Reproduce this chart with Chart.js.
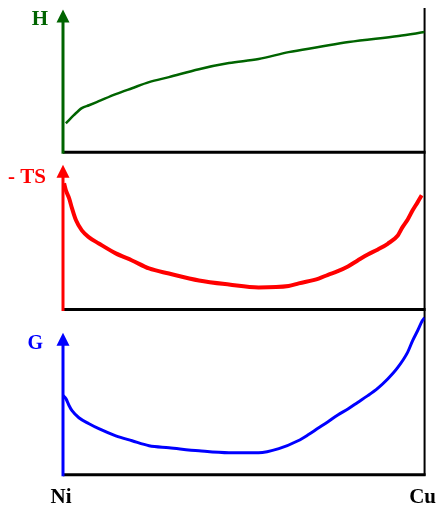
<!DOCTYPE html>
<html>
<head>
<meta charset="utf-8">
<script src="https://cdn.jsdelivr.net/npm/chart.js@4.4.1/dist/chart.umd.min.js"></script>
<style>
  html, body { margin:0; padding:0; background:#fff; }
  #wrap { position:relative; width:448px; height:520px; }
</style>
</head>
<body>
<div id="wrap"><canvas id="chart"></canvas></div>
<script>
// x = mole fraction of Cu (Ni = 0, Cu = 1), y in arbitrary units (0..100 per panel)
const xLabels = ['Ni', 'Cu'];

const enthalpyX = [0.008, 0.03, 0.052, 0.072, 0.099, 0.146, 0.191, 0.238, 0.293, 0.376, 0.459, 0.541, 0.624, 0.707, 0.79, 0.928, 1.0];
const enthalpyY = [20.1, 25.7, 30.6, 32.6, 35.4, 40.3, 44.4, 48.6, 52.1, 57.6, 61.8, 64.6, 69.4, 72.9, 76.4, 80.6, 83.3];

const entropyX = [0.003, 0.008, 0.017, 0.025, 0.036, 0.052, 0.072, 0.099, 0.146, 0.191, 0.238, 0.293, 0.376, 0.459, 0.541, 0.624, 0.652, 0.707, 0.733, 0.76, 0.788, 0.815, 0.843, 0.871, 0.898, 0.926, 0.939, 0.953, 0.967, 0.981, 0.992];
const entropyY = [80.3, 75.8, 70.7, 64.3, 56.7, 50.3, 45.9, 42.0, 35.7, 31.2, 26.1, 22.9, 18.5, 15.9, 14.0, 14.9, 16.6, 19.7, 22.1, 24.4, 27.4, 31.2, 35.0, 38.2, 41.8, 47.1, 52.4, 57.1, 63.1, 68.3, 72.6];

const gibbsX = [0, 0.008, 0.017, 0.025, 0.044, 0.072, 0.099, 0.146, 0.191, 0.238, 0.293, 0.376, 0.459, 0.541, 0.597, 0.65, 0.678, 0.705, 0.733, 0.76, 0.788, 0.815, 0.843, 0.871, 0.898, 0.926, 0.953, 0.967, 0.981, 0.994, 1.0];
const gibbsY = [47.9, 46.1, 41.8, 38.8, 34.5, 30.9, 27.9, 23.6, 20.6, 17.6, 16.4, 14.5, 13.3, 13.3, 15.8, 20.6, 24.2, 28.1, 32.1, 36.2, 39.8, 43.8, 47.9, 52.5, 58.0, 65.0, 74.1, 81.2, 87.3, 93.3, 95.0];

const GREEN = '#006400';
const RED = '#ff0000';
const BLUE = '#0000ff';
const SERIF = '"Liberation Serif", "Times New Roman", serif';

const toPoints = (xs, ys) => xs.map((x, i) => ({ x: x, y: ys[i] }));

// panel decorations: axis arrow, label, baseline
const panels = [
  { scale:'yH',  label:'H',    color:GREEN, arrowTop:99, size:21, labelDx:15, labelDy:16 },
  { scale:'yTS', label:'- TS', color:RED,   arrowTop:92, size:21, labelDx:17, labelDy:18 },
  { scale:'yG',  label:'G',    color:BLUE,  arrowTop:86, size:20, labelDx:20, labelDy:16 }
];

const axesPlugin = {
  id: 'thermoAxes',
  beforeDatasetsDraw(chart) {
    const { ctx, chartArea } = chart;
    const left = chartArea.left, right = chartArea.right;
    ctx.save();
    // right frame line
    ctx.strokeStyle = '#000';
    ctx.lineWidth = 2;
    ctx.beginPath();
    ctx.moveTo(right, chartArea.top);
    ctx.lineTo(right, chartArea.bottom + 1);
    ctx.stroke();

    panels.forEach(p => {
      const s = chart.scales[p.scale];
      const y0 = s.getPixelForValue(0);
      const yTip = s.getPixelForValue(p.arrowTop);
      // baseline
      ctx.strokeStyle = '#000';
      ctx.lineWidth = 3;
      ctx.beginPath();
      ctx.moveTo(left, y0);
      ctx.lineTo(right + 1, y0);
      ctx.stroke();
      // coloured y axis
      ctx.strokeStyle = p.color;
      ctx.lineWidth = 3;
      ctx.beginPath();
      ctx.moveTo(left, y0 + 1.5);
      ctx.lineTo(left, yTip + 10);
      ctx.stroke();
      ctx.fillStyle = p.color;
      ctx.beginPath();
      ctx.moveTo(left, yTip);
      ctx.lineTo(left - 6.5, yTip + 13);
      ctx.lineTo(left + 6.5, yTip + 13);
      ctx.closePath();
      ctx.fill();
      // label
      ctx.font = 'bold ' + p.size + 'px ' + SERIF;
      ctx.textAlign = 'right';
      ctx.textBaseline = 'alphabetic';
      ctx.fillText(p.label, left - p.labelDx, yTip + p.labelDy);
    });
    ctx.restore();
  }
};

const hiddenY = (weight) => ({
  type:'linear', min:0, max:100, position:'left',
  stack:'panels', stackWeight:weight, display:false
});

new Chart(document.getElementById('chart'), {
  type:'line',
  data:{
    datasets:[
      { label:'H', data:toPoints(enthalpyX, enthalpyY), yAxisID:'yH',
        borderColor:GREEN, borderWidth:2.5, pointRadius:0, cubicInterpolationMode:'monotone', fill:false },
      { label:'-TS', data:toPoints(entropyX, entropyY), yAxisID:'yTS',
        borderColor:RED, borderWidth:4, pointRadius:0, cubicInterpolationMode:'monotone', fill:false },
      { label:'G', data:toPoints(gibbsX, gibbsY), yAxisID:'yG',
        borderColor:BLUE, borderWidth:3, pointRadius:0, cubicInterpolationMode:'monotone', fill:false }
    ]
  },
  options:{
    responsive:true,
    maintainAspectRatio:false,
    animation:false,
    layout:{ padding:{ left:63, right:21, top:8, bottom:0 } },
    plugins:{ legend:{ display:false }, tooltip:{ enabled:false } },
    scales:{
      x:{
        type:'linear', min:0, max:1,
        grid:{ display:false, drawTicks:false },
        border:{ display:false },
        afterBuildTicks: s => { s.ticks = [{ value:0 }, { value:1 }]; },
        ticks:{
          padding:10, labelOffset:-2, color:'#000', autoSkip:false, maxRotation:0,
          font:{ family:SERIF, size:21, weight:'bold' },
          callback:(v, i) => xLabels[i]
        }
      },
      yG: hiddenY(165),
      yTS: hiddenY(157),
      yH: hiddenY(144)
    }
  },
  plugins:[axesPlugin]
});
</script>
</body>
</html>
